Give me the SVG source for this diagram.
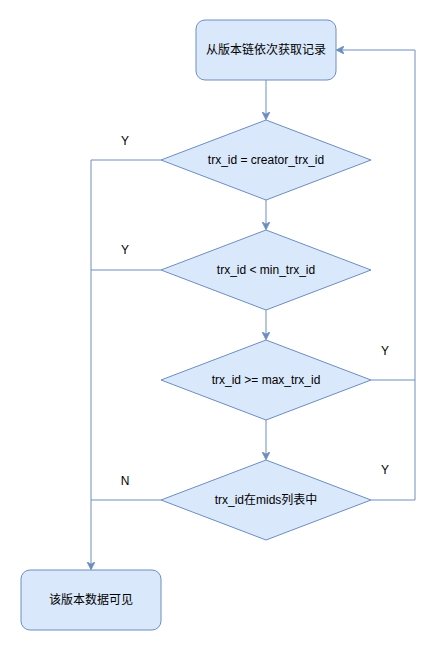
<svg xmlns="http://www.w3.org/2000/svg" width="444" height="651" viewBox="0 0 444 651">
<style>
.n{fill:#dae8fc;stroke:#6c8ebf;stroke-width:1}
.e{fill:none;stroke:#6c8ebf;stroke-width:1}
text{font-family:"Liberation Sans","Noto Sans CJK SC",sans-serif;font-size:12px;fill:#000;text-anchor:middle;dominant-baseline:central}
</style>
<defs>
<marker id="a" viewBox="0 0 10 10" refX="9" refY="5" markerWidth="8" markerHeight="8" markerUnits="userSpaceOnUse" orient="auto">
<path d="M0,0 L10,5 L0,10 L3,5 Z" fill="#6c8ebf" stroke="#6c8ebf"/>
</marker>
</defs>
<rect width="444" height="651" fill="#fff"/>
<g id="connectors">
<path class="e" d="M266,80 V119" marker-end="url(#a)"/>
<path class="e" d="M266,200 V229" marker-end="url(#a)"/>
<path class="e" d="M266,310 V339" marker-end="url(#a)"/>
<path class="e" d="M266,420 V459" marker-end="url(#a)"/>
<path class="e" d="M161,160 H91 V569" marker-end="url(#a)"/>
<path class="e" d="M161,270 H91"/>
<path class="e" d="M161,500 H91"/>
<path class="e" d="M371,380 H415"/>
<path class="e" d="M371,500 H415 V50 H337" marker-end="url(#a)"/>
</g>
<g id="start"><rect class="n" x="196" y="20" width="140" height="60" rx="9"/><text x="266" y="50">从版本链依次获取记录</text></g>
<g id="d1"><path class="n" d="M266,120 L371,160 L266,200 L161,160 Z"/><text x="266" y="160">trx_id = creator_trx_id</text></g>
<g id="d2"><path class="n" d="M266,230 L371,270 L266,310 L161,270 Z"/><text x="266" y="270">trx_id &lt; min_trx_id</text></g>
<g id="d3"><path class="n" d="M266,340 L371,380 L266,420 L161,380 Z"/><text x="266" y="380">trx_id &gt;= max_trx_id</text></g>
<g id="d4"><path class="n" d="M266,460 L371,500 L266,540 L161,500 Z"/><text x="266" y="500">trx_id在mids列表中</text></g>
<g id="end"><rect class="n" x="21" y="570" width="140" height="60" rx="9"/><text x="91" y="600">该版本数据可见</text></g>
<g id="labels">
<text x="125" y="141">Y</text>
<text x="125" y="250">Y</text>
<text x="385" y="351">Y</text>
<text x="385" y="470">Y</text>
<text x="125" y="481">N</text>
</g>
</svg>
